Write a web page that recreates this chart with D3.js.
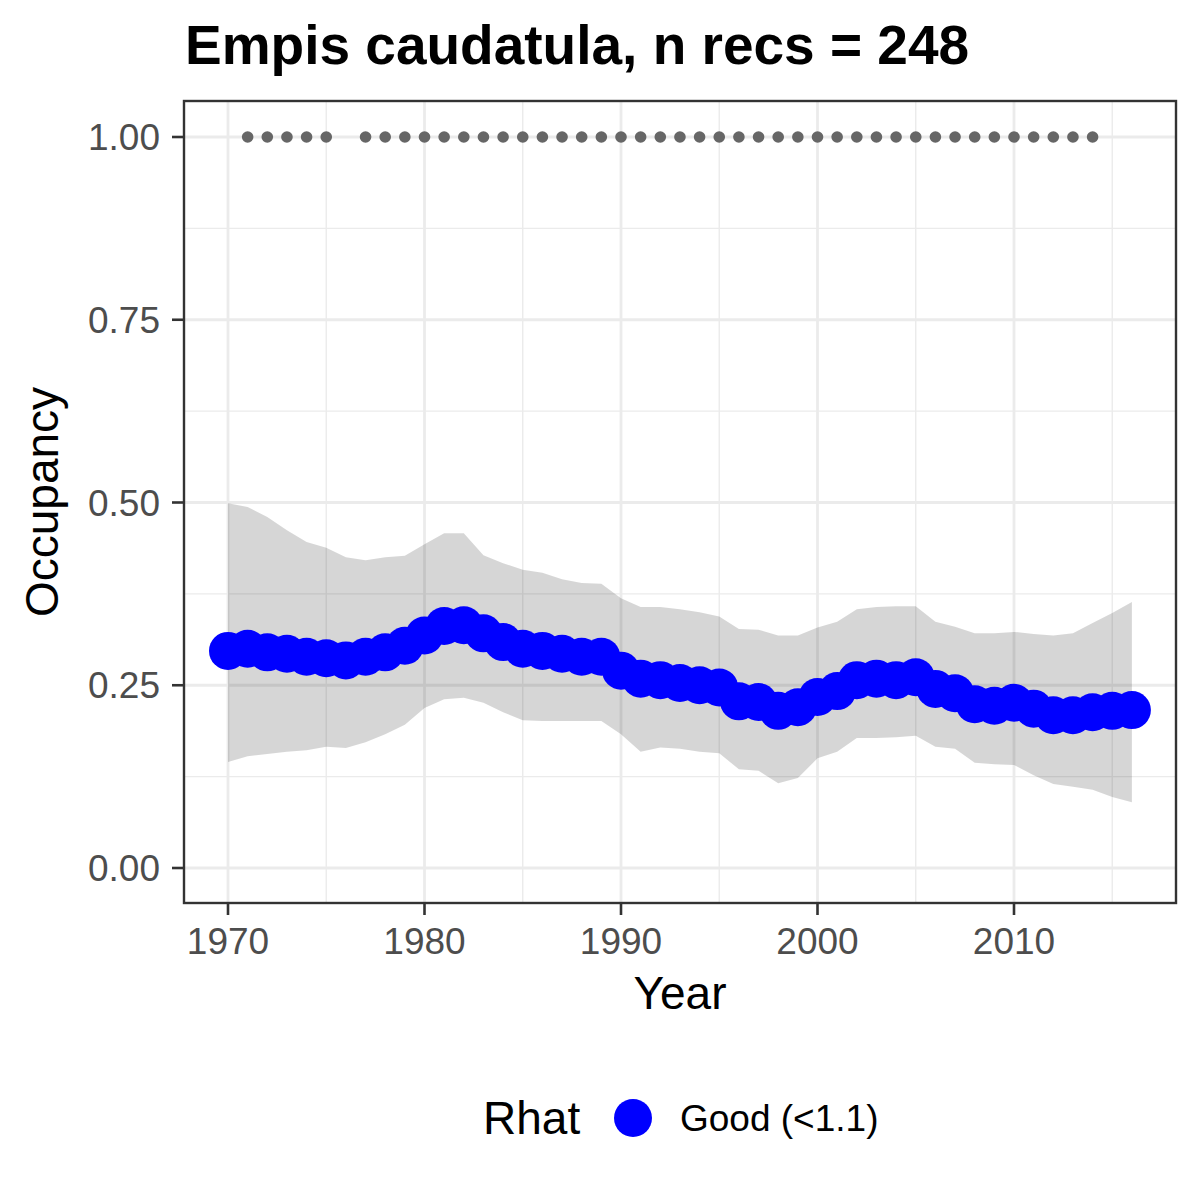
<!DOCTYPE html>
<html><head><meta charset="utf-8">
<script src="https://cdn.jsdelivr.net/npm/d3@7"></script>
<style>body{margin:0;background:#fff}svg{display:block}</style>
</head><body>
<script>
const years = d3.range(1970, 2017);
const occupancy = [0.297,0.300,0.295,0.293,0.289,0.287,0.284,0.289,0.295,0.304,0.318,0.331,0.332,0.321,0.309,0.300,0.297,0.293,0.289,0.289,
  0.270,0.259,0.257,0.253,0.250,0.247,0.228,0.227,0.215,0.220,0.234,0.242,0.257,0.259,0.257,0.261,0.245,0.239,0.224,0.222,
  0.226,0.218,0.209,0.209,0.213,0.215,0.216];
const upper = [0.499,0.494,0.480,0.462,0.446,0.438,0.425,0.421,0.425,0.427,0.443,0.458,0.458,0.428,0.417,0.408,0.404,0.395,0.390,0.389,
  0.369,0.357,0.357,0.354,0.350,0.344,0.327,0.326,0.318,0.318,0.329,0.337,0.354,0.357,0.358,0.358,0.337,0.330,0.321,0.321,
  0.323,0.320,0.318,0.321,0.335,0.349,0.364];
const lower = [0.145,0.153,0.156,0.159,0.161,0.166,0.164,0.172,0.183,0.196,0.219,0.231,0.233,0.226,0.213,0.202,0.201,0.201,0.201,0.201,
  0.183,0.159,0.165,0.163,0.159,0.157,0.135,0.133,0.116,0.123,0.150,0.159,0.178,0.178,0.179,0.181,0.166,0.163,0.144,0.142,
  0.141,0.127,0.115,0.111,0.107,0.097,0.090];
const recordYears = [1971,1972,1973,1974,1975,1977,1978,1979,1980,1981,1982,1983,1984,1985,1986,1987,1988,1989,1990,
  1991,1992,1993,1994,1995,1996,1997,1998,1999,2000,2001,2002,2003,2004,2005,2006,2007,2008,2009,2010,2011,2012,2013,2014];
const xTicks = [1970,1980,1990,2000,2010];
const xMinor = [1975,1985,1995,2005,2015];
const yTicks = [0,0.25,0.5,0.75,1];
const yMinor = [0.125,0.375,0.625,0.875];
const titleText = "Empis caudatula, n recs = 248";
const legendTitle = "Rhat";
const legendLabel = "Good (<1.1)";

const W = 1200, H = 1200;
const panel = {l:184, t:101, r:1176, b:903};
const font = "'Liberation Sans', Arial, sans-serif";

const svg = d3.select("body").append("svg").attr("width", W).attr("height", H)
  .style("font-family", font);
svg.append("rect").attr("width", W).attr("height", H).attr("fill", "#fff");

const x = d3.scaleLinear().domain([1970, 2010]).range([228, 1014]);
const y = d3.scaleLinear().domain([0, 1]).range([868, 137]);

const data = years.map((yr, i) => ({yr, v: occupancy[i], lo: lower[i], hi: upper[i]}));

const clipId = "pclip";
svg.append("clipPath").attr("id", clipId).append("rect")
  .attr("x", panel.l).attr("y", panel.t).attr("width", panel.r - panel.l).attr("height", panel.b - panel.t);

const g = svg.append("g").attr("clip-path", `url(#${clipId})`);

// minor grid
g.selectAll(".xmin").data(xMinor).join("line")
  .attr("x1", d => x(d)).attr("x2", d => x(d)).attr("y1", panel.t).attr("y2", panel.b)
  .attr("stroke", "#ebebeb").attr("stroke-width", 1.4);
g.selectAll(".ymin").data(yMinor).join("line")
  .attr("y1", d => y(d)).attr("y2", d => y(d)).attr("x1", panel.l).attr("x2", panel.r)
  .attr("stroke", "#ebebeb").attr("stroke-width", 1.4);
// major grid
g.selectAll(".xmaj").data(xTicks).join("line")
  .attr("x1", d => x(d)).attr("x2", d => x(d)).attr("y1", panel.t).attr("y2", panel.b)
  .attr("stroke", "#ebebeb").attr("stroke-width", 2.8);
g.selectAll(".ymaj").data(yTicks).join("line")
  .attr("y1", d => y(d)).attr("y2", d => y(d)).attr("x1", panel.l).attr("x2", panel.r)
  .attr("stroke", "#ebebeb").attr("stroke-width", 2.8);

// ribbon
const area = d3.area().x(d => x(d.yr)).y0(d => y(d.lo)).y1(d => y(d.hi));
g.append("path").datum(data).attr("d", area)
  .attr("fill", "#000000").attr("fill-opacity", 0.16);

// record dots
g.selectAll(".rec").data(recordYears).join("circle")
  .attr("cx", d => x(d)).attr("cy", y(1)).attr("r", 5.8).attr("fill", "#666666");

// occupancy points
g.selectAll(".occ").data(data).join("circle")
  .attr("cx", d => x(d.yr)).attr("cy", d => y(d.v)).attr("r", 19).attr("fill", "#0000ff");

// panel border
svg.append("rect").attr("x", panel.l).attr("y", panel.t)
  .attr("width", panel.r - panel.l).attr("height", panel.b - panel.t)
  .attr("fill", "none").attr("stroke", "#333333").attr("stroke-width", 2.4);

// axes ticks
const ax = svg.append("g");
ax.selectAll(".xt").data(xTicks).join("line")
  .attr("x1", d => x(d)).attr("x2", d => x(d)).attr("y1", panel.b).attr("y2", panel.b + 12)
  .attr("stroke", "#333333").attr("stroke-width", 2.6);
ax.selectAll(".xl").data(xTicks).join("text")
  .attr("x", d => x(d)).attr("y", 954).attr("text-anchor", "middle")
  .attr("font-size", 37).attr("fill", "#4d4d4d").text(d => d);
ax.selectAll(".yt").data(yTicks).join("line")
  .attr("y1", d => y(d)).attr("y2", d => y(d)).attr("x1", panel.l - 12).attr("x2", panel.l)
  .attr("stroke", "#333333").attr("stroke-width", 2.6);
ax.selectAll(".yl").data(yTicks).join("text")
  .attr("x", 160).attr("y", d => y(d) + 13).attr("text-anchor", "end")
  .attr("font-size", 37).attr("fill", "#4d4d4d").text(d => d3.format(".2f")(d));

// axis titles
svg.append("text").attr("x", (panel.l + panel.r) / 2).attr("y", 1009).attr("text-anchor", "middle")
  .attr("font-size", 46).attr("fill", "#000").text("Year");
svg.append("text").attr("transform", `translate(58,${(panel.t + panel.b) / 2}) rotate(-90)`)
  .attr("text-anchor", "middle").attr("font-size", 46).attr("fill", "#000").text("Occupancy");

// title
svg.append("text").attr("x", 185).attr("y", 64).attr("font-size", 55).attr("font-weight", "bold")
  .attr("fill", "#000").text(titleText);

// legend
svg.append("text").attr("x", 483).attr("y", 1134).attr("font-size", 46).attr("fill", "#000").text(legendTitle);
svg.append("circle").attr("cx", 633).attr("cy", 1118).attr("r", 19).attr("fill", "#0000ff");
svg.append("text").attr("x", 680).attr("y", 1131).attr("font-size", 37).attr("fill", "#000").text(legendLabel);
</script>
</body></html>
